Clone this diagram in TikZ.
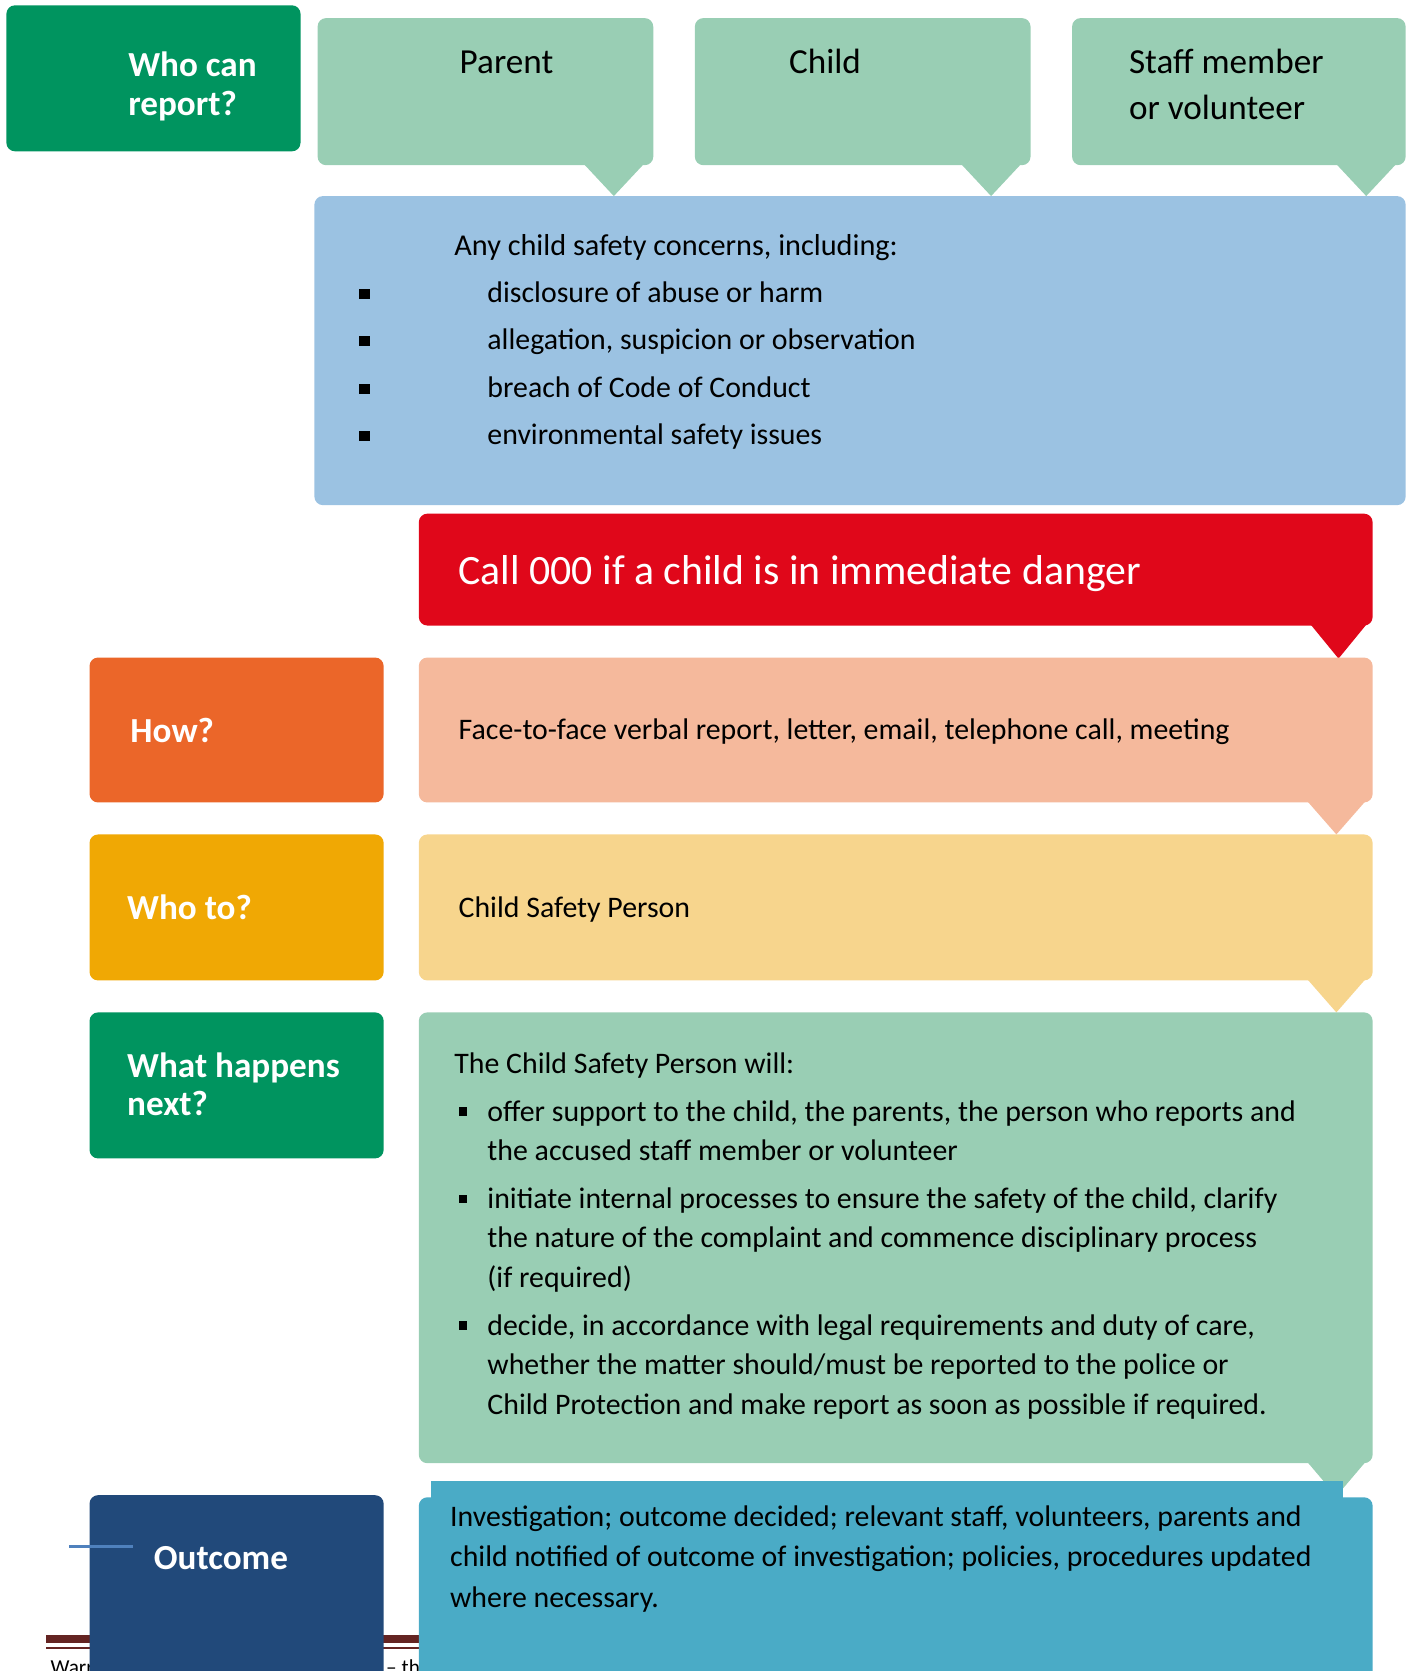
\documentclass[tikz,border=0pt]{standalone}
\usepackage{fontspec}
\setmainfont{Carlito}
\usetikzlibrary{calc}

\definecolor{greenDark}{HTML}{00945F}
\definecolor{greenLight}{HTML}{99CEB4}
\definecolor{blueLight}{HTML}{9BC2E2}
\definecolor{redCall}{HTML}{E0071A}
\definecolor{orangeHow}{HTML}{EB6629}
\definecolor{salmon}{HTML}{F5B99C}
\definecolor{amber}{HTML}{F0A804}
\definecolor{yellowLight}{HTML}{F7D58D}
\definecolor{navy}{HTML}{21497A}
\definecolor{tealBox}{HTML}{4AABC6}
\definecolor{footRed}{HTML}{642422}
\definecolor{ruleBlue}{HTML}{4F81BD}

\tikzset{
  panel/.style={fill=#1, rounded corners=4pt, inner sep=0pt, outer sep=0pt, anchor=north west},
  lbl/.style={anchor=base west, inner sep=0pt, text=white, align=left,
              font=\fontsize{16.5}{18}\selectfont\bfseries},
  who/.style={anchor=base west, inner sep=0pt, align=left,
              font=\fontsize{16.5}{21.5}\selectfont},
  body/.style={anchor=base west, inner sep=0pt, align=left,
               font=\fontsize{14}{18.5}\selectfont},
  sq/.style={fill=black, inner sep=0pt, minimum size=#1},
}

% \panelbox{name}{x1}{y1}{x2}{y2}{colour}
\newcommand\panelbox[6]{%
  \node[panel=#6, minimum width={(#4-#2)*0.5pt}, minimum height={(#5-#3)*0.5pt}] (#1) at (#2,#3) {};}
% \tailof{name}{colour}{left offset}{right offset}{depth}
\newcommand\tailof[5]{%
  \fill[#2] ($(#1.south east)+(-#3,-2)$) -- ($(#1.south east)+({-(#3+#4)/2},#5)$)
            -- ($(#1.south east)+(-#4,-2)$) -- cycle;}

\begin{document}
\begin{tikzpicture}[x=0.5pt,y=-0.5pt]
\useasboundingbox (0,0) rectangle (1326,1568);

% page footer, partly hidden by the panels
\fill[footRed] (43,1534) rectangle (1270,1542);
\fill[footRed] (43,1545.5) rectangle (1270,1547.5);
\node[anchor=base west, inner sep=0pt, font=\fontsize{10}{12}\selectfont] (footA) at (47,1571) {Warr};
\node[anchor=base west, inner sep=0pt, font=\fontsize{10}{12}\selectfont] (footB) at (362,1571) {– the};

% who can report (multi-line nodes are placed by the baseline of their last line)
\panelbox{whoLbl}{6}{5}{282}{142}{greenDark}
\node[lbl] (whoTxt) at (120,108) {Who can\\report?};

\panelbox{parent}{298}{17}{613}{155}{greenLight}
\tailof{parent}{greenLight}{66}{8}{29}
\node[who] (parentTxt) at (431,69) {Parent};

\panelbox{child}{652}{17}{967}{155}{greenLight}
\tailof{child}{greenLight}{66}{8}{29}
\node[who] (childTxt) at (740,69) {Child};

\panelbox{staff}{1006}{17}{1319}{155}{greenLight}
\tailof{staff}{greenLight}{66}{8}{29}
\node[who] (staffTxt) at (1059,112) {Staff member\\or volunteer};

% concerns
\panelbox{concerns}{295}{184}{1319}{474}{blueLight}
\node[body, font=\fontsize{14.2}{18.5}\selectfont] (concHead) at (426,240) {Any child safety concerns, including:};
\foreach \i/\t/\y in {1/disclosure of abuse or harm/284,
                      2/allegation{,} suspicion or observation/328,
                      3/breach of Code of Conduct/373,
                      4/environmental safety issues/417}{
  \node[sq=5pt] (cb\i) at (342,\y-8) {};
  \node[body] (ct\i) at (457,\y) {\t};
}

% emergency
\panelbox{danger}{393}{482}{1288}{587}{redCall}
\tailof{danger}{redCall}{59}{5}{31}
\node[anchor=base west, inner sep=0pt, text=white, font=\fontsize{19.6}{22}\selectfont]
  (dangerTxt) at (430,548) {Call 000 if a child is in immediate danger};

% how
\panelbox{howLbl}{84}{617}{360}{753}{orangeHow}
\node[lbl] (howTxt) at (122,697) {How?};
\panelbox{how}{393}{617}{1288}{753}{salmon}
\tailof{how}{salmon}{62}{6}{30}
\node[body] (howBody) at (430,694) {Face-to-face verbal report, letter, email, telephone call, meeting};

% who to
\panelbox{toLbl}{84}{783}{360}{920}{amber}
\node[lbl] (toTxt) at (119,863) {Who to?};
\panelbox{to}{393}{783}{1288}{920}{yellowLight}
\tailof{to}{yellowLight}{62}{6}{30}
\node[body] (toBody) at (430,861) {Child Safety Person};

% what happens next
\panelbox{nextLbl}{84}{950}{360}{1087}{greenDark}
\node[lbl] (nextTxt) at (119,1047) {What happens\\next?};
\panelbox{next}{393}{950}{1288}{1373}{greenLight}
\tailof{next}{greenLight}{62}{6}{31}
\node[body] (nextHead) at (426,1007) {The Child Safety Person will:};
\node[sq=4pt] (nb1) at (434.5,1043) {};
\node[body] (nt1) at (457,1089) {offer support to the child, the parents, the person who reports and\\the accused staff member or volunteer};
\node[sq=4pt] (nb2) at (434.5,1125) {};
\node[body] (nt2) at (457,1208) {initiate internal processes to ensure the safety of the child, clarify\\the nature of the complaint and commence disciplinary process\\(if required)};
\node[sq=4pt] (nb3) at (434.5,1244) {};
\node[body] (nt3) at (457,1327) {decide, in accordance with legal requirements and duty of care,\\whether the matter should/must be reported to the police or\\Child Protection and make report as soon as possible if required.};

% outcome
\panelbox{outLbl}{84}{1403}{360}{1620}{navy}
\node[lbl] (outTxt) at (144,1473) {Outcome};
\draw[ruleBlue, line width=1.5pt] (65,1451) -- (125,1451);
\panelbox{out}{393}{1405}{1288}{1620}{tealBox}
\fill[tealBox] (404,1390) rectangle (1260,1425);
\node[body, font=\fontsize{14}{19}\selectfont] (outBody) at (422,1508)
  {Investigation; outcome decided; relevant staff, volunteers, parents and\\child notified of outcome of investigation; policies, procedures updated\\where necessary.};

\end{tikzpicture}
\end{document}
